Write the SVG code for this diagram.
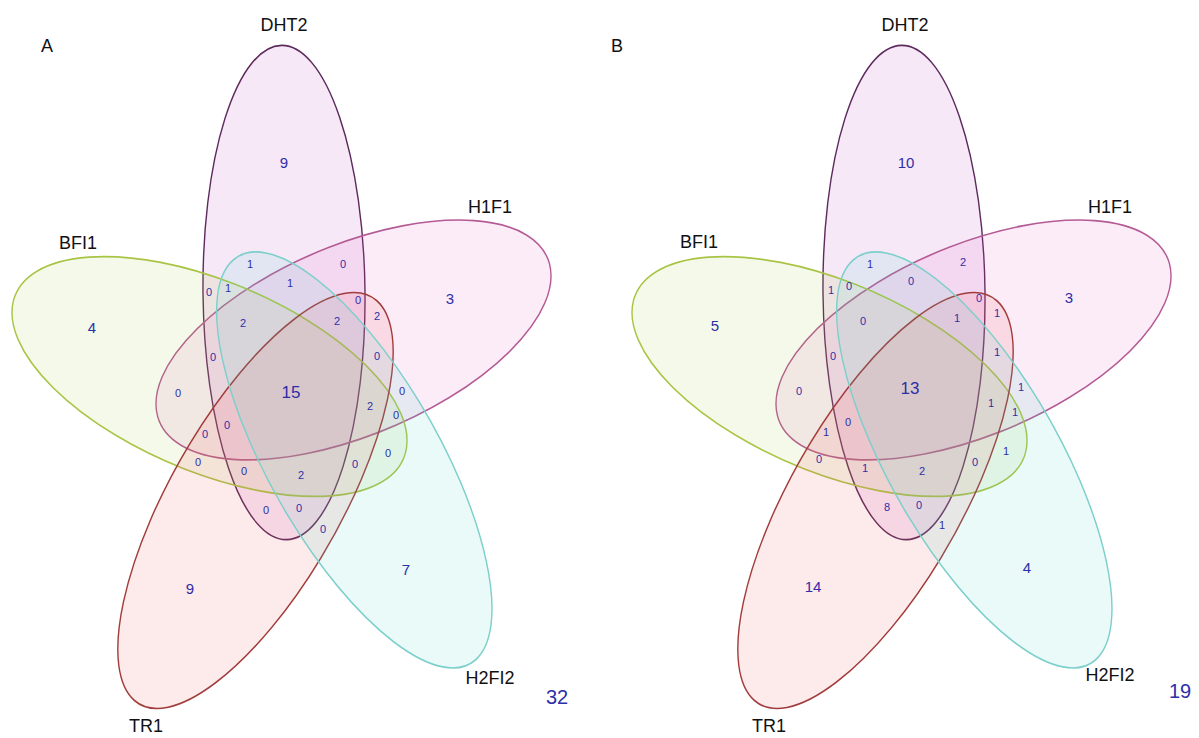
<svg xmlns="http://www.w3.org/2000/svg" width="1199" height="738" viewBox="0 0 1199 738">
<style>
.e{stroke-width:1.4;vector-effect:non-scaling-stroke}
.dht{fill:#c24cc4;fill-opacity:.13;stroke:#5c2a5c}
.h1{fill:#e055c0;fill-opacity:.11;stroke:#b45a94}
.bfi{fill:#a8cc3c;fill-opacity:.11;stroke:#a8c444}
.tr{fill:#ec5e5e;fill-opacity:.13;stroke:#a23c3c}
.h2{fill:#4cd4d0;fill-opacity:.12;stroke:#7ccfcb}
.lbl{font-family:"Liberation Sans",Arial,sans-serif;font-size:18px;fill:#111;text-anchor:middle}
.n{font-family:"Liberation Sans",Arial,sans-serif;fill:#2e2ea8;text-anchor:middle}
.s{font-size:11px}
.m{font-size:15px}
.c{font-size:17px}
.t{font-size:20px}
</style>
<defs>
<ellipse id="el" cx="0" cy="0" rx="206" ry="81"/>
</defs>
<rect width="1199" height="738" fill="#fff"/>

<g id="panelA">
<text class="lbl" x="47" y="52">A</text>
<g id="A-DHT2"><use href="#el" class="e dht" transform="scale(1,1.2) translate(284,243.75) rotate(89.3)"/><text class="lbl" x="284" y="31">DHT2</text></g>
<g id="A-H1F1"><use href="#el" class="e h1" transform="scale(1,1.2) translate(353.5,283.3) rotate(-18)"/><text class="lbl" x="490" y="213">H1F1</text></g>
<g id="A-BFI1"><use href="#el" class="e bfi" transform="scale(1,1.2) translate(209.5,313.75) rotate(18)"/><text class="lbl" x="78" y="249">BFI1</text></g>
<g id="A-TR1"><use href="#el" class="e tr" transform="scale(1,1.2) translate(255.5,417.1) rotate(-54)"/><text class="lbl" x="146" y="732">TR1</text></g>
<g id="A-H2FI2"><use href="#el" class="e h2" transform="scale(1,1.2) translate(354.3,383.3) rotate(54)"/><text class="lbl" x="490" y="684">H2FI2</text></g>
<g id="A-counts" class="n">
<text class="m" x="284" y="168">9</text>
<text class="m" x="450" y="304">3</text>
<text class="m" x="92" y="333">4</text>
<text class="m" x="190" y="594">9</text>
<text class="m" x="406" y="575">7</text>
<text class="c" x="291" y="398">15</text>
<text class="t" x="557" y="704">32</text>
<g class="s">
<text x="250" y="268">1</text>
<text x="343" y="268">0</text>
<text x="209" y="296">0</text>
<text x="228" y="292">1</text>
<text x="290" y="287">1</text>
<text x="243" y="327">2</text>
<text x="337" y="325">2</text>
<text x="358" y="304">0</text>
<text x="377" y="320">2</text>
<text x="213" y="361">0</text>
<text x="377" y="360">0</text>
<text x="402" y="395">0</text>
<text x="370" y="410">2</text>
<text x="396" y="419">0</text>
<text x="227" y="429">0</text>
<text x="205" y="438">0</text>
<text x="178" y="397">0</text>
<text x="198" y="466">0</text>
<text x="244" y="475">0</text>
<text x="301" y="479">2</text>
<text x="355" y="468">0</text>
<text x="388" y="457">0</text>
<text x="266" y="514">0</text>
<text x="299" y="512">0</text>
<text x="323" y="533">0</text>
</g>
</g>
</g>

<g id="panelB">
<text class="lbl" x="617" y="52">B</text>
<g id="B-DHT2"><use href="#el" class="e dht" transform="translate(620,0) scale(1,1.2) translate(284,243.75) rotate(89.3)"/><text class="lbl" x="905" y="31">DHT2</text></g>
<g id="B-H1F1"><use href="#el" class="e h1" transform="translate(620,0) scale(1,1.2) translate(353.5,283.3) rotate(-18)"/><text class="lbl" x="1110" y="213">H1F1</text></g>
<g id="B-BFI1"><use href="#el" class="e bfi" transform="translate(620,0) scale(1,1.2) translate(209.5,313.75) rotate(18)"/><text class="lbl" x="699" y="248">BFI1</text></g>
<g id="B-TR1"><use href="#el" class="e tr" transform="translate(620,0) scale(1,1.2) translate(255.5,417.1) rotate(-54)"/><text class="lbl" x="769" y="732">TR1</text></g>
<g id="B-H2FI2"><use href="#el" class="e h2" transform="translate(620,0) scale(1,1.2) translate(354.3,383.3) rotate(54)"/><text class="lbl" x="1110" y="681">H2FI2</text></g>
<g id="B-counts" class="n">
<text class="m" x="906" y="168">10</text>
<text class="m" x="1069" y="303">3</text>
<text class="m" x="715" y="331">5</text>
<text class="m" x="813" y="592">14</text>
<text class="m" x="1027" y="573">4</text>
<text class="c" x="910" y="394">13</text>
<text class="t" x="1180" y="698">19</text>
<g class="s">
<text x="870" y="268">1</text>
<text x="963" y="266">2</text>
<text x="831" y="294">1</text>
<text x="849" y="290">0</text>
<text x="911" y="285">0</text>
<text x="863" y="325">0</text>
<text x="957" y="322">1</text>
<text x="979" y="302">0</text>
<text x="997" y="317">1</text>
<text x="833" y="360">0</text>
<text x="997" y="356">1</text>
<text x="1021" y="391">1</text>
<text x="991" y="407">1</text>
<text x="1015" y="416">1</text>
<text x="848" y="426">0</text>
<text x="826" y="436">1</text>
<text x="799" y="395">0</text>
<text x="819" y="463">0</text>
<text x="865" y="472">1</text>
<text x="922" y="475">2</text>
<text x="975" y="466">0</text>
<text x="1006" y="455">1</text>
<text x="887" y="511">8</text>
<text x="919" y="509">0</text>
<text x="942" y="529">1</text>
</g>
</g>
</g>
</svg>
